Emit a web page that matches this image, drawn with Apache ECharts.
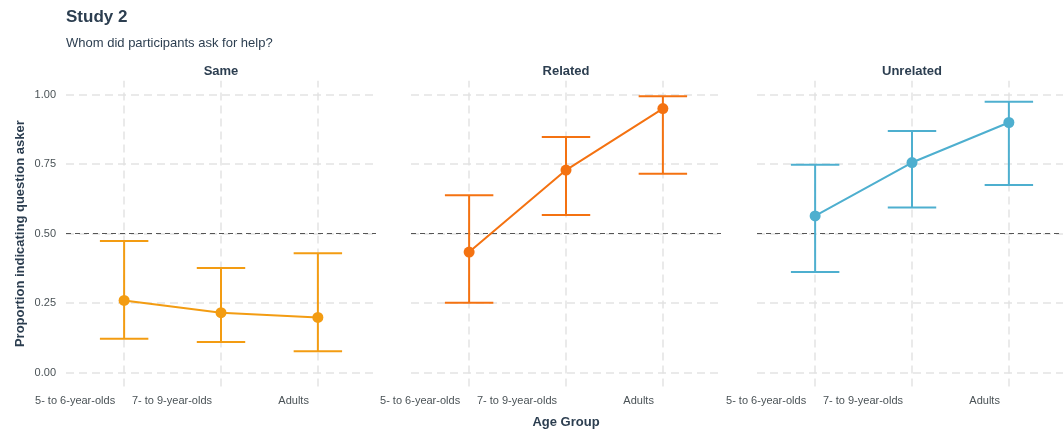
<!DOCTYPE html>
<html>
<head>
<meta charset="utf-8">
<script src="https://cdn.jsdelivr.net/npm/echarts@6/dist/echarts.min.js"></script>
<style>
html,body{margin:0;padding:0;background:#fff;}
#c{width:1063px;height:430px;}
</style>
</head>
<body>
<div id="c"></div>
<script>
const categories = ['5- to 6-year-olds', '7- to 9-year-olds', 'Adults'];
const panels = ['Same', 'Related', 'Unrelated'];
const yTicks = [0, 0.25, 0.5, 0.75, 1];
const yTickLabels = ['0.00', '0.25', '0.50', '0.75', '1.00'];

const sameMean = [0.260, 0.216, 0.199];
const sameLow = [0.122, 0.110, 0.077];
const sameHigh = [0.474, 0.377, 0.430];

const relatedMean = [0.434, 0.729, 0.950];
const relatedLow = [0.252, 0.567, 0.716];
const relatedHigh = [0.638, 0.848, 0.994];

const unrelatedMean = [0.564, 0.756, 0.900];
const unrelatedLow = [0.362, 0.594, 0.675];
const unrelatedHigh = [0.748, 0.869, 0.975];

const chanceLevel = 0.5;

const colors = ['#F39C12', '#F47211', '#4EAFCF'];
const means = [sameMean, relatedMean, unrelatedMean];
const lows = [sameLow, relatedLow, unrelatedLow];
const highs = [sameHigh, relatedHigh, unrelatedHigh];

const chart = echarts.init(document.getElementById('c'));
const gridLefts = [66, 411, 757];
const gridW = 310;
const textColor = '#2C3E50';
const tickColor = '#4A5256';
const font = 'Liberation Sans, Arial';

const grids = [], xAxes = [], yAxes = [], series = [];
const xPos = categories.map((c, i) => i + 1);

panels.forEach((p, k) => {
  grids.push({left: gridLefts[k], top: 80.8, width: gridW, height: 305.8, containLabel: false, outerBoundsMode: 'none'});
  xAxes.push({
    type: 'value', gridIndex: k, min: 0.4, max: 3.6,
    axisLine: {show: false}, axisTick: {show: false, customValues: xPos},
    splitLine: {show: false},
    axisLabel: {
      customValues: xPos,
      formatter: v => categories[Math.round(v) - 1] || '',
      align: 'right', padding: [0, 9, 0, 0],
      color: tickColor, fontSize: 11, fontFamily: font, margin: 9
    }
  });
  yAxes.push({
    type: 'value', gridIndex: k, min: -0.05, max: 1.05,
    axisLine: {show: false}, axisTick: {show: false, customValues: yTicks},
    splitLine: {show: false},
    axisLabel: {
      show: k === 0, customValues: yTicks,
      formatter: v => { const i = yTicks.findIndex(t => Math.abs(t - v) < 1e-6); return i >= 0 ? yTickLabels[i] : ''; },
      color: tickColor, fontSize: 11, fontFamily: font, margin: 10
    },
    name: k === 0 ? 'Proportion indicating question asker' : '', nameLocation: 'middle', nameGap: 39,
    nameTextStyle: {color: textColor, fontSize: 13, fontWeight: 'bold', fontFamily: font}
  });
  // gridlines
  series.push({
    type: 'line', xAxisIndex: k, yAxisIndex: k, data: [], symbol: 'none', silent: true, z: 1,
    markLine: {
      z: 1, silent: true, symbol: 'none', label: {show: false}, animation: false,
      lineStyle: {color: '#E3E3E3', type: [8, 5], width: 1.5},
      data: yTicks.map(t => ({yAxis: t})).concat(xPos.map(x => ({xAxis: x})))
    }
  });
  // chance line
  series.push({
    type: 'line', xAxisIndex: k, yAxisIndex: k, data: [], symbol: 'none', silent: true, z: 2,
    markLine: {
      z: 2, silent: true, symbol: 'none', label: {show: false}, animation: false,
      lineStyle: {color: '#555', type: [5, 4], width: 1},
      data: [{yAxis: chanceLevel}]
    }
  });
  // error bars
  series.push({
    type: 'custom', xAxisIndex: k, yAxisIndex: k, z: 3,
    data: xPos.map((x, i) => [x, lows[k][i], highs[k][i]]),
    encode: {x: 0, y: [1, 2]},
    renderItem: (params, api) => {
      const x = api.value(0), lo = api.value(1), hi = api.value(2);
      const a = api.coord([x, lo]), b = api.coord([x, hi]);
      const hw = api.size([0.25, 0])[0];
      const st = {stroke: colors[k], lineWidth: 2, fill: null};
      return {type: 'group', children: [
        {type: 'line', shape: {x1: a[0], y1: a[1], x2: b[0], y2: b[1]}, style: st},
        {type: 'line', shape: {x1: a[0] - hw, y1: a[1], x2: a[0] + hw, y2: a[1]}, style: st},
        {type: 'line', shape: {x1: b[0] - hw, y1: b[1], x2: b[0] + hw, y2: b[1]}, style: st}
      ]};
    }
  });
  // means
  series.push({
    type: 'line', xAxisIndex: k, yAxisIndex: k, z: 4,
    data: xPos.map((x, i) => [x, means[k][i]]),
    symbol: 'circle', symbolSize: 11,
    lineStyle: {color: colors[k], width: 2},
    itemStyle: {color: colors[k]}
  });
});

const titles = [
  {text: 'Study 2', left: 66, top: 9, padding: 0, textStyle: {color: textColor, fontSize: 17, fontWeight: 'bold', fontFamily: font}},
  {text: 'Whom did participants ask for help?', left: 66, top: 37, padding: 0, textStyle: {color: textColor, fontSize: 13, fontWeight: 'normal', fontFamily: font}},
  {text: 'Age Group', left: 566, top: 416, padding: 0, textAlign: 'center', textStyle: {color: textColor, fontSize: 13, fontWeight: 'bold', fontFamily: font}}
];
panels.forEach((p, k) => {
  titles.push({text: p, left: gridLefts[k] + gridW / 2, top: 65, padding: 0, textAlign: 'center',
    textStyle: {color: textColor, fontSize: 13, fontWeight: 'bold', fontFamily: font}});
});

chart.setOption({
  animation: false,
  title: titles,
  grid: grids, xAxis: xAxes, yAxis: yAxes, series: series
});
</script>
</body>
</html>
